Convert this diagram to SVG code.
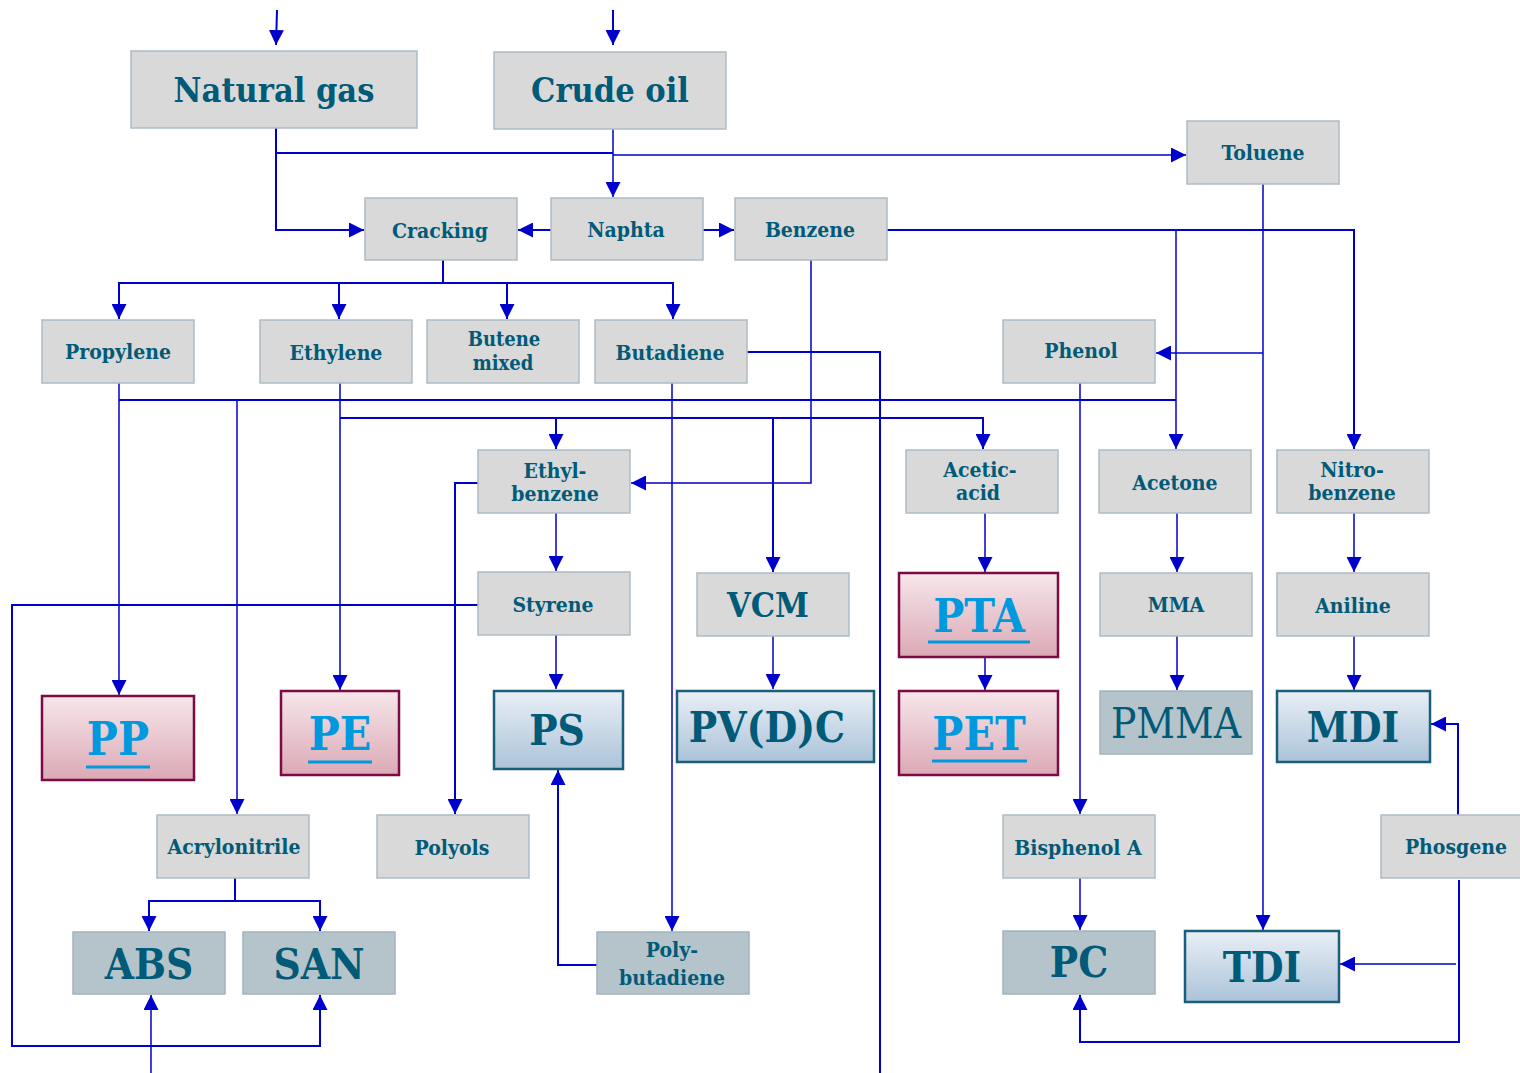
<svg xmlns="http://www.w3.org/2000/svg" width="1520" height="1073" viewBox="0 0 1520 1073">
<defs>
<marker id="ah" viewBox="0 0 10 10" refX="10" refY="5" markerUnits="userSpaceOnUse" markerWidth="15" markerHeight="15" orient="auto">
<path d="M0,0 L10,5 L0,10 z" fill="#0000cc"/>
</marker>
<linearGradient id="gPink" x1="0" y1="0" x2="0" y2="1">
<stop offset="0" stop-color="#f6e6ea"/>
<stop offset="1" stop-color="#dba9b6"/>
</linearGradient>
<linearGradient id="gBlue" x1="0" y1="0" x2="0" y2="1">
<stop offset="0" stop-color="#e9eff6"/>
<stop offset="1" stop-color="#abc3d9"/>
</linearGradient>
</defs>
<style>
.g{fill:#d9d9d9;stroke:#aebbc4;stroke-width:1.5}
.s{fill:#b5c4cb;stroke:#a3b3bb;stroke-width:1.5}
.p{fill:url(#gPink);stroke:#7b0a45;stroke-width:2.5}
.b{fill:url(#gBlue);stroke:#1b5e7b;stroke-width:2.5}
text{font-family:"DejaVu Serif Condensed","DejaVu Serif",serif;font-weight:bold;fill:#005a78;text-anchor:middle}
.t{font-size:21px}
.L{font-size:34px}
.X{font-size:42px}
.k{fill:#0099dd;font-size:46px}
.u{stroke:#0099dd;stroke-width:3}
.c path,.c line{fill:none;stroke:#0000cc;stroke-width:2}
.c .th{stroke-width:1.5}
</style>
<g class="c" id="connectors">
<path d="M277,10 L276,45" marker-end="url(#ah)"/>
<path d="M613,10 L613,45" marker-end="url(#ah)"/>
<path d="M276,128 L276,230 L364,230" marker-end="url(#ah)"/>
<path d="M276,153 L613,153"/>
<path class="th" d="M613,155 L1186,155" marker-end="url(#ah)"/>
<path class="th" d="M613,129 L613,197" marker-end="url(#ah)"/>
<path d="M551,230 L518,230" marker-end="url(#ah)"/>
<path d="M703,230 L734,230" marker-end="url(#ah)"/>
<path d="M443,260 L443,283"/>
<path d="M119,319 L119,283 L673,283 L673,319" marker-end="url(#ah)"/>
<path d="M339,283 L339,319" marker-end="url(#ah)"/>
<path d="M507,283 L507,319" marker-end="url(#ah)"/>
<path d="M119,283 L119,319" marker-end="url(#ah)"/>
<path d="M887,230 L1354,230 L1354,449" marker-end="url(#ah)"/>
<path class="th" d="M1176,230 L1176,449" marker-end="url(#ah)"/>
<path class="th" d="M1263,184 L1263,930" marker-end="url(#ah)"/>
<path class="th" d="M1263,353 L1156,353" marker-end="url(#ah)"/>
<path d="M747,352 L880,352 L880,1073"/>
<path class="th" d="M672,383 L672,931" marker-end="url(#ah)"/>
<path class="th" d="M811,260 L811,483 L631,483" marker-end="url(#ah)"/>
<path class="th" d="M119,383 L119,695" marker-end="url(#ah)"/>
<path d="M119,400 L1176,400"/>
<path class="th" d="M237,400 L237,814" marker-end="url(#ah)"/>
<path class="th" d="M340,383 L340,690" marker-end="url(#ah)"/>
<path d="M340,418 L983,418 L983,449" marker-end="url(#ah)"/>
<path d="M556,418 L556,449" marker-end="url(#ah)"/>
<path d="M773,418 L773,572" marker-end="url(#ah)"/>
<path d="M478,483 L455,483 L455,814" marker-end="url(#ah)"/>
<path class="th" d="M556,513 L556,571" marker-end="url(#ah)"/>
<path d="M478,605 L12,605 L12,1046 L320,1046 L320,995" marker-end="url(#ah)"/>
<path class="th" d="M151,1073 L151,995" marker-end="url(#ah)"/>
<path class="th" d="M556,635 L556,689" marker-end="url(#ah)"/>
<path d="M597,965 L558,965 L558,770" marker-end="url(#ah)"/>
<path class="th" d="M773,636 L773,689" marker-end="url(#ah)"/>
<path class="th" d="M985,513 L985,572" marker-end="url(#ah)"/>
<path class="th" d="M985,657 L985,690" marker-end="url(#ah)"/>
<path class="th" d="M1080,383 L1080,814" marker-end="url(#ah)"/>
<path class="th" d="M1080,878 L1080,930" marker-end="url(#ah)"/>
<path class="th" d="M1177,513 L1177,572" marker-end="url(#ah)"/>
<path class="th" d="M1177,636 L1177,690" marker-end="url(#ah)"/>
<path class="th" d="M1354,513 L1354,572" marker-end="url(#ah)"/>
<path class="th" d="M1354,636 L1354,690" marker-end="url(#ah)"/>
<path d="M1458,815 L1458,724 L1431,724" marker-end="url(#ah)"/>
<path d="M1459,880 L1459,1042 L1080,1042 L1080,995" marker-end="url(#ah)"/>
<path class="th" d="M1456,964 L1340,964" marker-end="url(#ah)"/>
<path d="M235,878 L235,901"/>
<path d="M149,931 L149,901 L320,901 L320,931" marker-end="url(#ah)"/>
<path d="M149,901 L149,931" marker-end="url(#ah)"/>
</g>
<g id="natural-gas"><rect class="g" x="131" y="51" width="286" height="77"/><text class="L" x="274" y="102">Natural gas</text></g>
<g id="crude-oil"><rect class="g" x="494" y="52" width="232" height="77"/><text class="L" x="610" y="102">Crude oil</text></g>
<g id="toluene"><rect class="g" x="1187" y="121" width="152" height="63"/><text class="t" x="1263" y="160">Toluene</text></g>
<g id="cracking"><rect class="g" x="365" y="198" width="152" height="62"/><text class="t" x="440" y="238">Cracking</text></g>
<g id="naphta"><rect class="g" x="551" y="198" width="152" height="62"/><text class="t" x="626" y="237">Naphta</text></g>
<g id="benzene"><rect class="g" x="735" y="198" width="152" height="62"/><text class="t" x="810" y="237">Benzene</text></g>
<g id="propylene"><rect class="g" x="42" y="320" width="152" height="63"/><text class="t" x="118" y="359">Propylene</text></g>
<g id="ethylene"><rect class="g" x="260" y="320" width="152" height="63"/><text class="t" x="336" y="360">Ethylene</text></g>
<g id="butene-mixed"><rect class="g" x="427" y="320" width="152" height="63"/><text x="504" y="346" style="font-size:20px">Butene</text><text x="503" y="370" style="font-size:20px">mixed</text></g>
<g id="butadiene"><rect class="g" x="595" y="320" width="152" height="63"/><text class="t" x="670" y="360">Butadiene</text></g>
<g id="phenol"><rect class="g" x="1003" y="320" width="152" height="63"/><text class="t" x="1081" y="358">Phenol</text></g>
<g id="ethylbenzene"><rect class="g" x="478" y="450" width="152" height="63"/><text class="t" x="555" y="478">Ethyl-</text><text class="t" x="555" y="501">benzene</text></g>
<g id="acetic-acid"><rect class="g" x="906" y="450" width="152" height="63"/><text class="t" x="980" y="477">Acetic-</text><text class="t" x="978" y="500">acid</text></g>
<g id="acetone"><rect class="g" x="1099" y="450" width="152" height="63"/><text class="t" x="1175" y="490">Acetone</text></g>
<g id="nitrobenzene"><rect class="g" x="1277" y="450" width="152" height="63"/><text class="t" x="1352" y="477">Nitro-</text><text class="t" x="1352" y="500">benzene</text></g>
<g id="styrene"><rect class="g" x="478" y="572" width="152" height="63"/><text class="t" x="553" y="612">Styrene</text></g>
<g id="vcm"><rect class="g" x="697" y="573" width="152" height="63"/><text class="L" x="768" y="617">VCM</text></g>
<g id="pta"><rect class="p" x="899" y="573" width="159" height="84"/><text class="k" x="979" y="632">PTA</text><line class="u" x1="928" y1="642" x2="1030" y2="642"/></g>
<g id="mma"><rect class="g" x="1100" y="573" width="152" height="63"/><text class="t" x="1176" y="612">MMA</text></g>
<g id="aniline"><rect class="g" x="1277" y="573" width="152" height="63"/><text class="t" x="1353" y="613">Aniline</text></g>
<g id="pp"><rect class="p" x="42" y="696" width="152" height="84"/><text class="k" x="118" y="755">PP</text><line class="u" x1="86" y1="767" x2="150" y2="767"/></g>
<g id="pe"><rect class="p" x="281" y="691" width="118" height="84"/><text class="k" x="340" y="750">PE</text><line class="u" x1="308" y1="762" x2="372" y2="762"/></g>
<g id="ps"><rect class="b" x="494" y="691" width="129" height="78"/><text class="X" x="557" y="745">PS</text></g>
<g id="pvdc"><rect class="b" x="677" y="691" width="197" height="71"/><text class="X" x="767" y="742">PV(D)C</text></g>
<g id="pet"><rect class="p" x="899" y="691" width="159" height="84"/><text class="k" x="979" y="750">PET</text><line class="u" x1="932" y1="761" x2="1027" y2="761"/></g>
<g id="pmma"><rect class="s" x="1100" y="691" width="152" height="63"/><text class="X" x="1176" y="738" style="font-weight:normal">PMMA</text></g>
<g id="mdi"><rect class="b" x="1277" y="691" width="153" height="71"/><text class="X" x="1353" y="742">MDI</text></g>
<g id="acrylonitrile"><rect class="g" x="157" y="815" width="152" height="63"/><text class="t" x="234" y="854">Acrylonitrile</text></g>
<g id="polyols"><rect class="g" x="377" y="815" width="152" height="63"/><text class="t" x="452" y="855">Polyols</text></g>
<g id="bisphenol-a"><rect class="g" x="1003" y="815" width="152" height="63"/><text class="t" x="1078" y="855">Bisphenol A</text></g>
<g id="phosgene"><rect class="g" x="1381" y="815" width="145" height="63"/><text class="t" x="1456" y="854">Phosgene</text></g>
<g id="abs"><rect class="s" x="73" y="932" width="152" height="62"/><text class="X" x="149" y="979">ABS</text></g>
<g id="san"><rect class="s" x="243" y="932" width="152" height="62"/><text class="X" x="319" y="979">SAN</text></g>
<g id="polybutadiene"><rect class="s" x="597" y="932" width="152" height="62"/><text class="t" x="672" y="957">Poly-</text><text class="t" x="672" y="985">butadiene</text></g>
<g id="pc"><rect class="s" x="1003" y="931" width="152" height="63"/><text class="X" x="1079" y="977">PC</text></g>
<g id="tdi"><rect class="b" x="1185" y="931" width="154" height="71"/><text class="X" x="1262" y="982">TDI</text></g>
</svg>
